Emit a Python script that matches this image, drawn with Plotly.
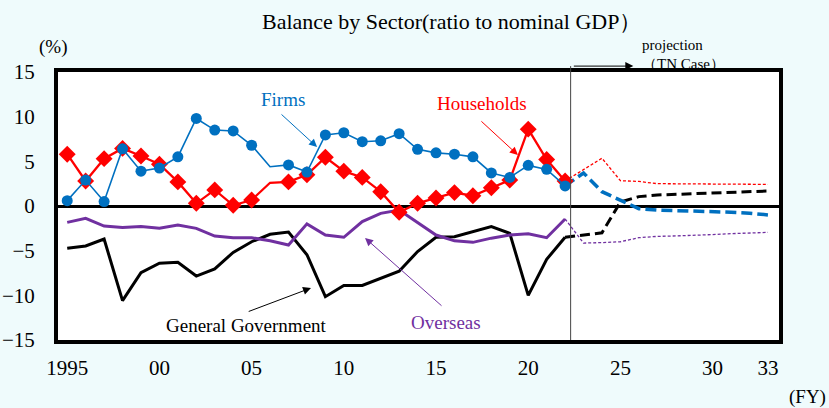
import plotly.graph_objects as go

# Fiscal years
years_actual = list(range(1995, 2023))
years_proj = list(range(2022, 2034))

# Sector balances, % of nominal GDP (actual)
firms = [0.6, 2.9, 0.5, 6.4, 3.9, 4.25, 5.5, 9.8, 8.5, 8.4, 6.8, 4.4, 4.6, 3.8,
         7.95, 8.2, 7.2, 7.3, 8.1, 6.35, 5.95, 5.8, 5.5, 3.7, 3.2, 4.55, 4.1, 2.25]
households = [5.8, 2.8, 5.3, 6.45, 5.6, 4.67, 2.7, 0.3, 1.8, 0.08, 0.67, 2.6, 2.7, 3.5,
              5.45, 3.9, 3.2, 1.6, -0.7, 0.3, 0.9, 1.5, 1.15, 2.05, 2.9, 8.6, 5.2, 2.8]
general_gov = [-4.74, -4.48, -3.7, -10.6, -7.47, -6.4, -6.3, -7.84, -7.05, -5.19, -4.0,
               -3.17, -2.92, -5.45, -10.15, -8.9, -8.9, -8.1, -7.3, -5.1, -3.5, -3.43,
               -2.87, -2.3, -3.06, -10.0, -5.97, -3.5]
overseas = [-1.83, -1.38, -2.24, -2.4, -2.3, -2.5, -2.13, -2.5, -3.36, -3.55, -3.55,
            -3.9, -4.37, -2.0, -3.25, -3.5, -1.75, -0.82, -0.45, -1.87, -3.25, -3.9,
            -4.07, -3.6, -3.25, -3.1, -3.55, -1.45]

# Projection (TN Case)
firms_proj = [2.25, 3.7, 1.6, 0.6, -0.3, -0.45, -0.5, -0.55, -0.6, -0.7, -0.8, -1.0]
households_proj = [2.8, 4.1, 5.35, 2.83, 2.75, 2.5, 2.5, 2.45, 2.45, 2.43, 2.43, 2.42]
general_gov_proj = [-3.5, -3.25, -3.0, 0.45, 1.05, 1.23, 1.3, 1.4, 1.45, 1.52, 1.6, 1.68]
overseas_proj = [-1.45, -4.15, -4.1, -4.0, -3.55, -3.4, -3.35, -3.3, -3.2, -3.1, -3.02, -2.95]

x_tickvals = [1995, 2000, 2005, 2010, 2015, 2020, 2025, 2030, 2033]
x_ticktext = ["1995", "00", "05", "10", "15", "20", "25", "30", "33"]
y_tickvals = [15, 10, 5, 0, -5, -10, -15]

BLUE = "#0070C0"
RED = "#FF0000"
PURPLE = "#7030A0"
BLACK = "#000000"
SERIF = "Liberation Serif, Times New Roman, serif"
BG = "#EFFBFC"
PROJ_START = 2022.3

# FY2006 has no marker on the actual-series lines
marker_sizes_circle = [0 if y == 2006 else 11 for y in years_actual]
marker_sizes_diamond = [0 if y == 2006 else 13 for y in years_actual]

fig = go.Figure()

# Projections (drawn first so actuals sit on top)
fig.add_trace(go.Scatter(x=years_proj, y=households_proj, mode="lines",
                         line=dict(color=RED, width=1.3, dash="3px,2px"), hoverinfo="skip"))
fig.add_trace(go.Scatter(x=years_proj, y=overseas_proj, mode="lines",
                         line=dict(color=PURPLE, width=1.3, dash="3px,2px"), hoverinfo="skip"))
fig.add_trace(go.Scatter(x=years_proj, y=general_gov_proj, mode="lines",
                         line=dict(color=BLACK, width=3, dash="10px,5px"), hoverinfo="skip"))
fig.add_trace(go.Scatter(x=years_proj, y=firms_proj, mode="lines",
                         line=dict(color=BLUE, width=3.5, dash="11px,5px"), hoverinfo="skip"))

# Actuals
fig.add_trace(go.Scatter(x=years_actual, y=general_gov, mode="lines",
                         line=dict(color=BLACK, width=3)))
fig.add_trace(go.Scatter(x=years_actual, y=overseas, mode="lines",
                         line=dict(color=PURPLE, width=3)))
fig.add_trace(go.Scatter(x=years_actual, y=households, mode="lines+markers",
                         line=dict(color=RED, width=2.3),
                         marker=dict(symbol="diamond", size=marker_sizes_diamond, color=RED,
                                     opacity=1, line=dict(width=0))))
fig.add_trace(go.Scatter(x=years_actual, y=firms, mode="lines+markers",
                         line=dict(color=BLUE, width=1.6),
                         marker=dict(symbol="circle", size=marker_sizes_circle, color=BLUE,
                                     opacity=1, line=dict(width=0))))

# Projection divider
fig.add_shape(type="line", xref="x", yref="paper", x0=PROJ_START, x1=PROJ_START,
              y0=0, y1=1.022, line=dict(color="#444444", width=1))


def paper_text(text, x, y, size, color=BLACK):
    return dict(text=text, xref="paper", yref="paper", x=x, y=y, xanchor="center",
                yanchor="middle", showarrow=False, font=dict(size=size, color=color))


def label(text, x, y, color):
    return dict(text=text, x=x, y=y, xanchor="center", yanchor="middle",
                showarrow=False, font=dict(size=19, color=color))


def pointer(x, y, ax, ay, color):
    return dict(text="", x=x, y=y, ax=ax, ay=ay, axref="x", ayref="y", showarrow=True,
                arrowhead=2, arrowsize=1.6, arrowwidth=1, arrowcolor=color)


annotations = [
    paper_text("Balance by Sector(ratio to nominal GDP）", 0.546, 1.187, 22),
    paper_text("(%)", -0.007, 1.093, 19),
    paper_text("(FY)", 1.040, -0.213, 19),
    paper_text("projection", 0.852, 1.102, 15),
    paper_text("（TN Case）", 0.868, 1.03, 15),
    # projection arrow (61 px long, pointing right)
    dict(text="", x=2025.7, y=1.022, xref="x", yref="paper", ax=-61, ay=0,
         axref="pixel", ayref="pixel", showarrow=True, arrowhead=2, arrowsize=1.6,
         arrowwidth=1, arrowcolor=BLACK),
    # series labels
    label("Firms", 2006.7, 11.9, BLUE),
    pointer(2008.55, 6.6, 2006.54, 10.4, BLUE),
    label("Households", 2017.5, 11.5, RED),
    pointer(2019.44, 5.71, 2017.38, 9.63, RED),
    label("General Government", 2004.7, -13.4, BLACK),
    pointer(2008.22, -9.18, 2004.76, -11.87, BLACK),
    label("Overseas", 2015.54, -13.0, PURPLE),
    pointer(2011.15, -3.58, 2015.38, -11.31, PURPLE),
]

fig.update_layout(
    width=829, height=408,
    margin=dict(l=58, r=50, t=72, b=68),
    paper_bgcolor=BG, plot_bgcolor="white",
    showlegend=False,
    font=dict(family=SERIF, color=BLACK),
    annotations=annotations,
    xaxis=dict(range=[1994.5, 2033.6], tickvals=x_tickvals, ticktext=x_ticktext,
               showgrid=False, zeroline=False, ticks="outside", ticklen=6,
               tickcolor="rgba(0,0,0,0)", tickfont=dict(size=21, family=SERIF),
               showline=True, linecolor=BLACK, linewidth=4, mirror=True,
               automargin=False),
    yaxis=dict(range=[-15, 15], tickvals=y_tickvals, showgrid=False,
               zeroline=True, zerolinecolor=BLACK, zerolinewidth=3,
               ticks="outside", ticklen=15, tickcolor="rgba(0,0,0,0)",
               tickfont=dict(size=21, family=SERIF),
               showline=True, linecolor=BLACK, linewidth=4, mirror=True,
               automargin=False),
)

fig.write_html("out.html")
